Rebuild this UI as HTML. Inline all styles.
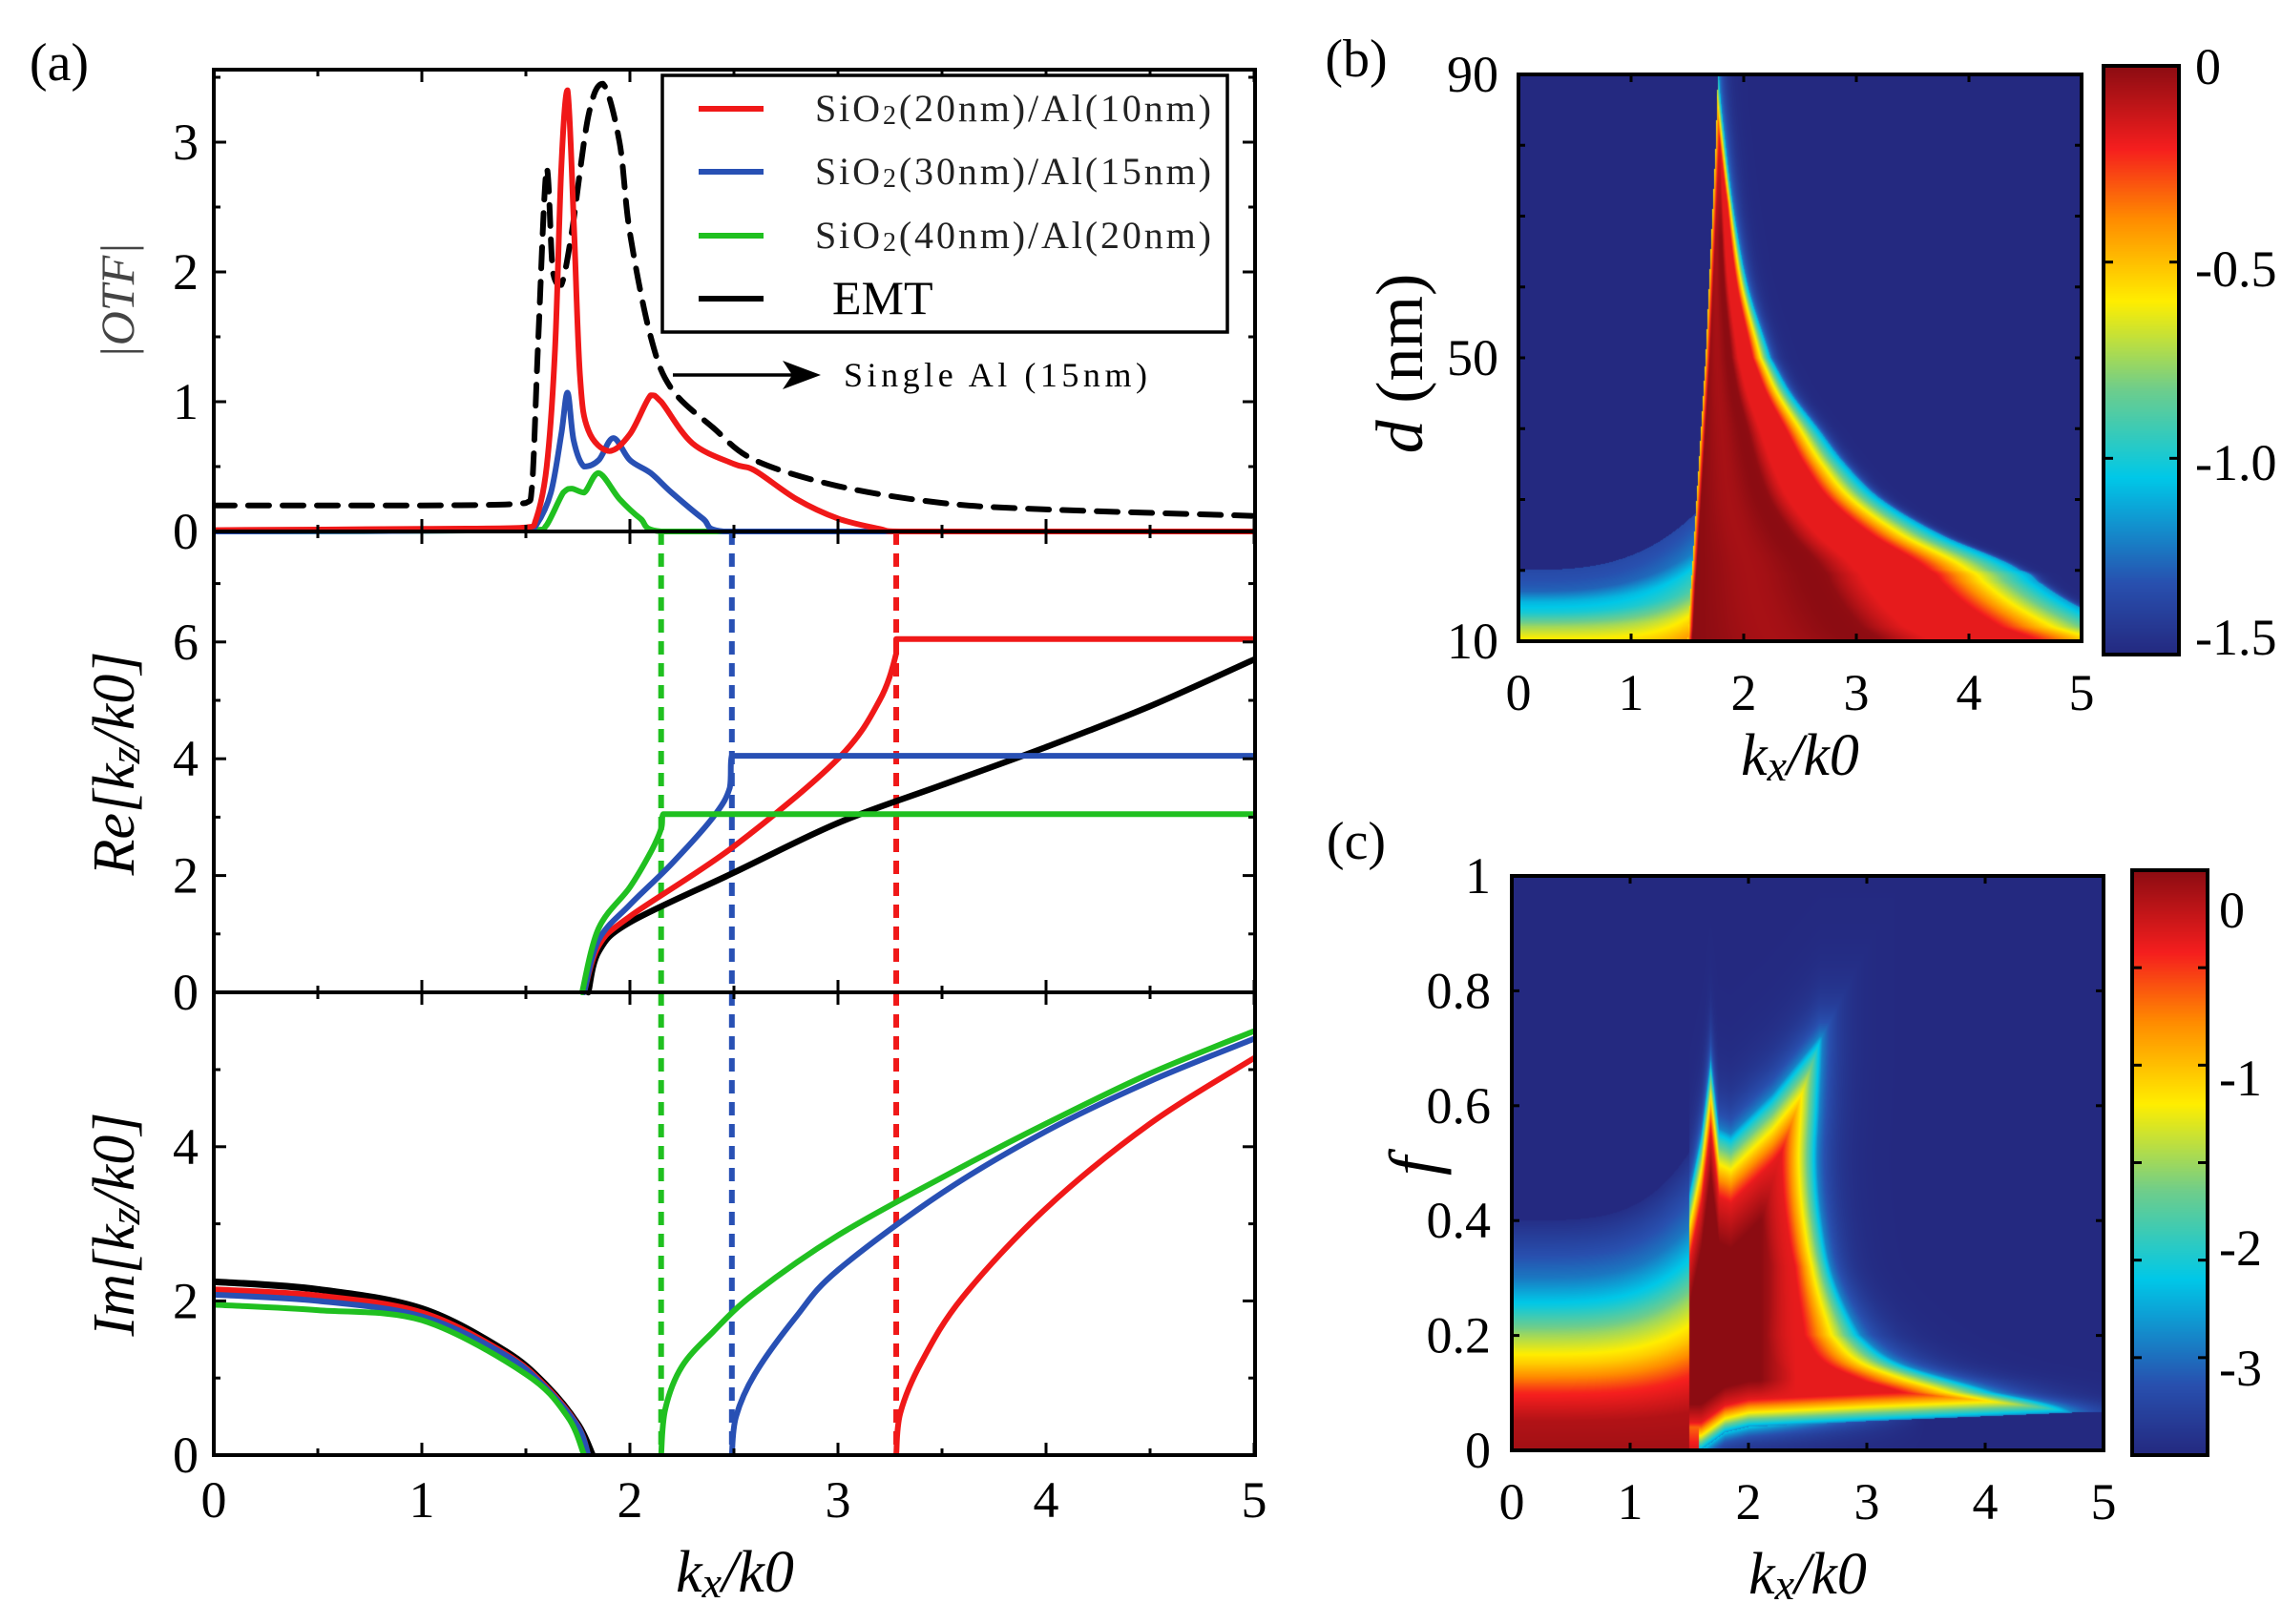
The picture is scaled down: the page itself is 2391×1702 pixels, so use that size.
<!DOCTYPE html>
<html><head><meta charset="utf-8">
<style>
html,body{margin:0;padding:0;background:#fff;}
#root{position:relative;width:2391px;height:1702px;overflow:hidden;background:#fff;font-family:"Liberation Serif",serif;}
svg{position:absolute;left:0;top:0;}
canvas{position:absolute;}
</style></head>
<body>
<div id="root">
<canvas id="hb" width="590" height="594" style="left:1591px;top:78px"></canvas>
<canvas id="cbb" width="79" height="617" style="left:2204px;top:69px"></canvas>
<canvas id="hc" width="620" height="602" style="left:1584px;top:918px"></canvas>
<canvas id="cbc" width="79" height="613" style="left:2234px;top:912px"></canvas>
<svg id="sv" width="2391" height="1702" xmlns="http://www.w3.org/2000/svg"></svg>
</div>
<script>
// ===== Panel (a) data =====
const otfRedK=[0,1.0,1.5,1.55,1.6,1.64,1.67,1.7,1.73,1.76,1.8,1.9,2.0,2.1,2.15,2.3,2.5,2.6,2.8,3.0,3.2,3.3,5];
const otfRedV=[0.01,0.02,0.03,0.1,0.5,1.4,2.8,3.4,2.4,1.2,0.78,0.62,0.75,1.05,1.0,0.68,0.52,0.47,0.25,0.1,0.02,0,0];
const otfBlueK=[0,1.5,1.55,1.62,1.67,1.7,1.73,1.78,1.85,1.92,2.0,2.1,2.2,2.35,2.45,5];
const otfBlueV=[0,0.01,0.05,0.3,0.75,1.07,0.7,0.5,0.55,0.72,0.55,0.45,0.3,0.1,0,0];
const otfGreenK=[0,1.55,1.6,1.68,1.72,1.78,1.85,1.95,2.05,2.15,5];
const otfGreenV=[0,0.01,0.05,0.3,0.33,0.3,0.45,0.25,0.1,0,0];
const otfAlK=[0,0.5,1.0,1.5,1.53,1.56,1.6,1.63,1.67,1.72,1.8,1.87,1.95,2.0,2.1,2.2,2.4,2.6,3.0,3.5,4.0,5.0];
const otfAlV=[0.2,0.2,0.2,0.22,0.35,1.5,2.8,2.0,1.9,2.3,3.2,3.45,3.0,2.3,1.5,1.1,0.8,0.55,0.35,0.22,0.17,0.12];
const reBlackK=[1.8,1.85,2.0,2.5,3.0,3.5,4.0,4.5,5.0];
const reBlackV=[0,0.7,1.2,2.05,2.9,3.55,4.2,4.9,5.7];
const reRedK=[1.78,1.85,2.0,2.5,3.0,3.2,3.28,3.28,5.0];
const reRedV=[0,0.8,1.3,2.5,4.0,5.0,5.8,6.05,6.05];
const reBlueK=[1.78,1.85,2.0,2.2,2.4,2.48,2.49,5.0];
const reBlueV=[0,0.9,1.5,2.2,3.0,3.5,4.05,4.05];
const reGreenK=[1.77,1.85,2.0,2.1,2.15,2.16,5.0];
const reGreenV=[0,1.1,1.8,2.4,2.8,3.05,3.05];
const imBlackK=[0,0.5,1.0,1.4,1.6,1.75,1.82];
const imBlackV=[2.25,2.15,1.9,1.35,0.9,0.4,0];
const imRedLK=[0,0.5,1.0,1.4,1.6,1.75,1.8];
const imRedLV=[2.15,2.07,1.85,1.32,0.88,0.38,0];
const imBlueLK=[0,0.5,1.0,1.4,1.6,1.75,1.8];
const imBlueLV=[2.08,2.0,1.8,1.3,0.86,0.37,0];
const imGreenLK=[0,0.5,1.0,1.5,1.7,1.78];
const imGreenLV=[1.95,1.88,1.75,1.05,0.5,0];
const imGreenRK=[2.15,2.17,2.25,2.4,2.6,3.0,3.5,4.0,4.5,5.0];
const imGreenRV=[0,0.6,1.15,1.6,2.1,2.85,3.6,4.3,4.95,5.5];
const imBlueRK=[2.49,2.51,2.6,2.8,3.0,3.5,4.0,4.5,5.0];
const imBlueRV=[0,0.5,1.05,1.8,2.4,3.4,4.2,4.85,5.4];
const imRedRK=[3.28,3.3,3.4,3.6,4.0,4.5,5.0];
const imRedRV=[0,0.55,1.2,2.05,3.2,4.3,5.15];
const cutoffK=[2.15,2.49,3.28];
const xTicks=[0,1,2,3,4,5];
const otfTicks=[0,1,2,3];
const reTicks=[0,2,4,6];
const imTicks=[0,2,4];
const legendLabels=["SiO2(20nm)/Al(10nm)","SiO2(30nm)/Al(15nm)","SiO2(40nm)/Al(20nm)","EMT"];

// ===== heatmap (b) data =====
const bRowsD=[10,12,15,18,20,25,30,35,40,45,50,60,70,80,90];
const bLeftK=[1.5,1.51,1.52,1.53,1.54,1.56,1.58,1.6,1.62,1.64,1.66,1.69,1.72,1.75,1.77];
const bRightK=[5.8,5.35,4.95,4.65,4.45,3.75,3.22,2.9,2.66,2.42,2.24,2.04,1.92,1.84,1.78];
const bTicksD=[10,50,90];
// ===== heatmap (c) data =====
const cLeftF=[0,0.05,0.1,0.15,0.2,0.25,0.3,0.35,0.4];
const cLeftT=[0.97,0.95,0.85,0.65,0.5,0.32,0.18,0.1,0.02];
const cTopK=[1.5,1.6,1.68,1.75,1.85,2.0,2.2,2.4,2.6,5.0];
const cTopF=[0.45,0.55,0.68,0.56,0.55,0.58,0.62,0.67,0.72,0.72];
const cRightF=[0.05,0.07,0.1,0.15,0.2,0.3,0.4,0.5,0.6,0.7,0.75];
const cRightK=[4.6,4.7,4.1,3.3,2.95,2.72,2.62,2.58,2.6,2.62,2.62];
const cBotK=[1.5,1.6,1.8,2.0,3.0,4.75];
const cBotF=[0,0.0,0.03,0.04,0.05,0.065];
const cTicksF=[0,0.2,0.4,0.6,0.8,1];

const NS="http://www.w3.org/2000/svg";
const sv=document.getElementById('sv');
function el(tag,attrs,parent){const e=document.createElementNS(NS,tag);for(const k in attrs)e.setAttribute(k,attrs[k]);(parent||sv).appendChild(e);return e;}
function txt(s,x,y,size,anchor,extra,parent){const t=el('text',Object.assign({x:x,y:y,'font-size':size,'text-anchor':anchor||'middle','font-family':'Liberation Serif, serif',fill:'#000'},extra||{}),parent);t.textContent=s;return t;}

const xA=k=>224+218*k;
const yO=v=>557-136*v, yR=v=>1040-61.2*v, yI=v=>1525-80.8*v;
const clampTo=(v,a,b)=>Math.min(Math.max(v,Math.min(a,b)),Math.max(a,b));
function line(ks,vs,yf,color,w,name,dash){
  const P=ks.map((k,i)=>[xA(k),yf(vs[i])]);
  let d='M'+P[0][0].toFixed(1)+','+P[0][1].toFixed(1);
  for(let i=0;i<P.length-1;i++){
    const p0=P[Math.max(0,i-1)],p1=P[i],p2=P[i+1],p3=P[Math.min(P.length-1,i+2)];
    const c1=[p1[0]+(p2[0]-p0[0])/6,p1[1]+(p2[1]-p0[1])/6];
    const c2=[p2[0]-(p3[0]-p1[0])/6,p2[1]-(p3[1]-p1[1])/6];
    c1[0]=clampTo(c1[0],p1[0],p2[0]);c2[0]=clampTo(c2[0],p1[0],p2[0]);
    c1[1]=clampTo(c1[1],p1[1],p2[1]);c2[1]=clampTo(c2[1],p1[1],p2[1]);
    d+='C'+c1[0].toFixed(1)+','+c1[1].toFixed(1)+' '+c2[0].toFixed(1)+','+c2[1].toFixed(1)+' '+p2[0].toFixed(1)+','+p2[1].toFixed(1);
  }
  const p=el('path',{d:d,fill:'none',stroke:color,'stroke-width':w,'stroke-linejoin':'round','stroke-linecap':'round','clip-path':'url(#clipA)'});
  if(dash)p.setAttribute('stroke-dasharray',dash);
  
  
  return p;
}
const RED='#f01818',BLUE='#2850b4',GREEN='#20c020';
const cp=el('clipPath',{id:'clipA'});el('rect',{x:224,y:73,width:1091,height:1452},cp);

[GREEN,BLUE,RED].forEach((c,i)=>{
  const l=el('line',{x1:xA(cutoffK[i]),x2:xA(cutoffK[i]),y1:557,y2:1525,stroke:c,'stroke-width':6,'stroke-dasharray':'14,9'});
  
  
});
line(otfAlK,otfAlV,yO,'#000',6,'otf-single-al','22,14');
line(otfGreenK,otfGreenV,yO,GREEN,6,'otf-green');
line(otfBlueK,otfBlueV,yO,BLUE,6,'otf-blue');
line(otfRedK,otfRedV,yO,RED,6,'otf-red');
line(reBlackK,reBlackV,yR,'#000',6.5,'re-emt');
line(reRedK,reRedV,yR,RED,6,'re-red');
line(reBlueK,reBlueV,yR,BLUE,6,'re-blue');
line(reGreenK,reGreenV,yR,GREEN,6,'re-green');
line(imBlackK,imBlackV,yI,'#000',7,'im-emt-left');
line(imRedLK,imRedLV,yI,RED,6,'im-red-left');
line(imBlueLK,imBlueLV,yI,BLUE,6,'im-blue-left');
line(imGreenLK,imGreenLV,yI,GREEN,6,'im-green-left');
line(imGreenRK,imGreenRV,yI,GREEN,6,'im-green-right');
line(imBlueRK,imBlueRV,yI,BLUE,6,'im-blue-right');
line(imRedRK,imRedRV,yI,RED,6,'im-red-right');

function frame(x,y,w,h,name){const r=el('rect',{x:x,y:y,width:w,height:h,fill:'none',stroke:'#000','stroke-width':4});}
frame(224,73,1091,484,'otf-frame');frame(224,557,1091,483,'re-frame');frame(224,1040,1091,485,'im-frame');
function tk(x1,y1,x2,y2){el('line',{x1:x1,y1:y1,x2:x2,y2:y2,stroke:'#000','stroke-width':3});}
for(let k=0;k<=5;k+=0.5){const L=(k%1===0)?13:7;[[73,1],[557,-1],[557,1],[1040,-1],[1040,1],[1525,-1]].forEach(([y,s])=>tk(xA(k),y,xA(k),y+s*L));}
function yt(yf,max,step,minor){for(let v=0;v<=max+1e-6;v+=minor){const L=(Math.abs(v/step-Math.round(v/step))<1e-6)?13:7;tk(224,yf(v),224+L,yf(v));tk(1315,yf(v),1315-L,yf(v));}}
yt(yO,3.5,1,0.5);yt(yR,7.5,2,1);yt(yI,6,2,1);
xTicks.forEach(k=>{const t=txt(String(k),xA(k),1590,54);});
otfTicks.forEach(v=>{const t=txt(String(v),208,yO(v)+18,54,'end');});
reTicks.forEach(v=>{const t=txt(String(v),208,yR(v)+18,54,'end');});
imTicks.forEach(v=>{const t=txt(String(v),208,yI(v)+18,54,'end');});
let t;
t=txt('|OTF|',140,315,50,'middle',{'font-style':'italic',transform:'rotate(-90 140 315)',fill:'#444'});
t=txt('',140,800,62,'middle',{'font-style':'italic',transform:'rotate(-90 140 800)'});t.innerHTML='Re[k<tspan font-size="46" dy="6">z</tspan><tspan dy="-6">/k0]</tspan>';
t=txt('',140,1283,62,'middle',{'font-style':'italic',transform:'rotate(-90 140 1283)'});t.innerHTML='Im[k<tspan font-size="46" dy="6">z</tspan><tspan dy="-6">/k0]</tspan>';
t=txt('',770,1668,62,'middle',{'font-style':'italic'});t.innerHTML='k<tspan font-size="46" dy="6">x</tspan><tspan dy="-6">/k0</tspan>';
t=txt('(a)',62,84,56);
const lg=el('g',{});
el('rect',{x:694,y:79,width:592,height:269,fill:'#fff',stroke:'#000','stroke-width':3.5},lg);
const lgc=[RED,BLUE,GREEN,'#000'],lgy=[114,180,247,313];
legendLabels.forEach((s,i)=>{
  const g=el('g',{},lg);
  el('line',{x1:732,x2:800,y1:lgy[i],y2:lgy[i],stroke:lgc[i],'stroke-width':6},g);
  if(i<3){const tt=txt('',854,lgy[i]+13,40,'start',{},g);tt.innerHTML='SiO<tspan font-size="28" dy="3">2</tspan><tspan dy="-3">'+s.slice(4)+'</tspan>';tt.setAttribute('fill','#222');tt.setAttribute('textLength','415');}
  else txt(s,872,lgy[i]+16,50,'start',{},g);
});
const an=el('g',{});
el('line',{x1:705,y1:393,x2:835,y2:393,stroke:'#000','stroke-width':3.5},an);
el('path',{d:'M860,393 L820,378 L830,393 L820,408 Z',fill:'#000'},an);
txt('Single Al (15nm)',884,405,36,'start',{textLength:318},an);

// ===== colormap =====
const stops=[[0,36,41,128],[0.12,40,80,175],[0.3,0,200,232],[0.45,110,205,140],[0.6,255,238,0],[0.74,255,140,0],[0.86,245,30,30],[1,140,12,18]];
function cmap(t){t=Math.max(0,Math.min(1,t));for(let i=1;i<stops.length;i++){if(t<=stops[i][0]){const a=stops[i-1],b=stops[i],f=(t-a[0])/(b[0]-a[0]);return [a[1]+(b[1]-a[1])*f,a[2]+(b[2]-a[2])*f,a[3]+(b[3]-a[3])*f];}}return stops[stops.length-1].slice(1);}
function interp(xs,ys,x){if(x<=xs[0])return ys[0];for(let i=1;i<xs.length;i++){if(x<=xs[i]){const f=(x-xs[i-1])/(xs[i]-xs[i-1]||1);return ys[i-1]+(ys[i]-ys[i-1])*f;}}return ys[ys.length-1];}
function interpC(xs,ys,x){if(x<=xs[0])return ys[0];const n=xs.length;for(let i=1;i<n;i++){if(x<=xs[i]){const u=(x-xs[i-1])/(xs[i]-xs[i-1]);const y0=ys[Math.max(0,i-2)],y1=ys[i-1],y2=ys[i],y3=ys[Math.min(n-1,i+1)];
 const m1=(y2-y0)/2,m2=(y3-y1)/2;const u2=u*u,u3=u2*u;return (2*u3-3*u2+1)*y1+(u3-2*u2+u)*m1+(-2*u3+3*u2)*y2+(u3-u2)*m2;}}return ys[n-1];}
const cl=v=>Math.max(0,Math.min(1,v));
const gProf=[0,0.2,0.4,0.55,0.7,0.85,1.0], tProf=[0.62,0.5,0.33,0.27,0.15,0.12,0.1];

// heatmap b
(function(){const c=document.getElementById('hb'),ctx=c.getContext('2d'),W=c.width,H=c.height,im=ctx.createImageData(W,H);
for(let py=0;py<H;py++){const d=90-80*py/(H-1);const L=interp(bRowsD,bLeftK,d),R=interpC(bRowsD,bRightK,d);
 for(let px=0;px<W;px++){const k=5*px/(W-1);let t;
  if(k<L){const h=10*(1+0.7*Math.pow(k/1.5,3));const g=(d-10)/h;
    t=g>1?0:interp(gProf,tProf,g)+0.12*Math.pow(k/1.5,5)*(1-g);}
  else{const w=Math.max(0.05,0.28*(R-L));const dR=R-k;
   if(dR<0)t=0.2*Math.exp(dR/0.05);
   else{t=0.24+0.64*cl(dR/w);const fr=(k-L)/(R-L);
    if(d<82){const dk=cl((0.5-fr)/0.1)*cl((82-d)/15);const stripe=0.5+0.5*Math.cos(fr*18);t=t+(1-t)*dk*(0.7+0.3*stripe);}
    t=Math.min(t,0.62+0.38*cl((k-L)/0.04));}
  }
  const col=cmap(t),i=(py*W+px)*4;im.data[i]=col[0];im.data[i+1]=col[1];im.data[i+2]=col[2];im.data[i+3]=255;}}
ctx.putImageData(im,0,0);})();
// heatmap c
(function(){const c=document.getElementById('hc'),ctx=c.getContext('2d'),W=c.width,H=c.height,im=ctx.createImageData(W,H);
for(let py=0;py<H;py++){const f=1-py/(H-1);
 const Rk=interpC(cRightF,cRightK,f);const hf=0.15+0.25*cl((f-0.12)/0.2);
 for(let px=0;px<W;px++){const k=5*px/(W-1);let t;
  if(k<1.5){const s=1+0.3*Math.pow(k/1.5,4);const ff=f/s;t=ff>0.4?0:interp(cLeftF,cLeftT,ff);}
  else{const T=interp(cTopK,cTopF,k),B=interp(cBotK,cBotF,k);
   let d=Math.min(T-f,(f-B)*2.5,(Rk-k)*hf,(4.75-k)*0.1);
   if(f>0.76)d=Math.min(d,-0.03);
   if(f<B)t=0.3*Math.exp((f-B)/0.02)*cl((3.5-k)/1.5);
   else if(d<0)t=0.2*Math.exp(d/0.05);
   else{t=0.2+0.68*Math.pow(cl(d/0.12),0.8);t+=0.12*cl((d-0.12)/0.08)*cl((2.4-k)/0.3);}
   if(k<1.58)t=Math.max(t,0.9*cl(1-f/0.3));}
  const col=cmap(t),i=(py*W+px)*4;im.data[i]=col[0];im.data[i+1]=col[1];im.data[i+2]=col[2];im.data[i+3]=255;}}
ctx.putImageData(im,0,0);})();
['cbb','cbc'].forEach(id=>{const c=document.getElementById(id),ctx=c.getContext('2d');for(let y=0;y<c.height;y++){const col=cmap(1-y/(c.height-1));ctx.fillStyle='rgb('+col.map(Math.round).join(',')+')';ctx.fillRect(0,y,c.width,1);}});

frame(1591,78,590,594,'frame-b');frame(2204,69,79,617,'colorbar-frame-b');
frame(1584,918,620,602,'frame-c');frame(2234,912,79,613,'colorbar-frame-c');
const xB=k=>1591+118*k, yB=d=>672-7.425*(d-10);
const xC=k=>1584+124*k, yC=f=>1520-602*f;
for(let k=1;k<5;k++){tk(xB(k),672,xB(k),664);tk(xB(k),78,xB(k),86);tk(xC(k),1520,xC(k),1512);tk(xC(k),918,xC(k),926);}
for(let d=20;d<90;d+=10){tk(1591,yB(d),1598,yB(d));tk(2181,yB(d),2174,yB(d));}
for(let f=0.2;f<1;f+=0.2){tk(1584,yC(f),1592,yC(f));tk(2204,yC(f),2196,yC(f));}
xTicks.forEach(k=>{let a=txt(String(k),xB(k),744,54);
 let b=txt(String(k),xC(k),1592,54);});
bTicksD.forEach(d=>{const a=txt(String(d),1570,yB(d)+18,54,'end');});
cTicksF.forEach(f=>{const a=txt(String(f),1562,yC(f)+18,54,'end');});
const cbbL=['0','-0.5','-1.0','-1.5'],cbbY=[88,300,503,686];
cbbL.forEach((s,i)=>{const a=txt(s,2300,cbbY[i],54,'start');});
const cbcL=['0','-1','-2','-3'],cbcY=[972,1148,1326,1452];
cbcL.forEach((s,i)=>{const a=txt(s,2325,cbcY[i],54,'start');});
for(let i=1;i<3;i++){tk(2204,69+617*i/3,2214,69+617*i/3);tk(2283,69+617*i/3,2273,69+617*i/3);}
for(let i=1;i<6;i++){tk(2234,912+613*i/6,2244,912+613*i/6);tk(2313,912+613*i/6,2303,912+613*i/6);}
t=txt('',1886,812,62,'middle',{'font-style':'italic'});t.innerHTML='k<tspan font-size="46" dy="6">x</tspan><tspan dy="-6">/k0</tspan>';
t=txt('',1894,1670,62,'middle',{'font-style':'italic'});t.innerHTML='k<tspan font-size="46" dy="6">x</tspan><tspan dy="-6">/k0</tspan>';
t=txt('',1490,381,70,'middle',{transform:'rotate(-90 1490 381)'});t.innerHTML='<tspan font-style="italic">d</tspan> (nm)';
t=txt('f',1505,1222,72,'middle',{'font-style':'italic',transform:'rotate(-90 1505 1222)'});
t=txt('(b)',1421,80,56);
t=txt('(c)',1421,900,56);
</script>
</body></html>
